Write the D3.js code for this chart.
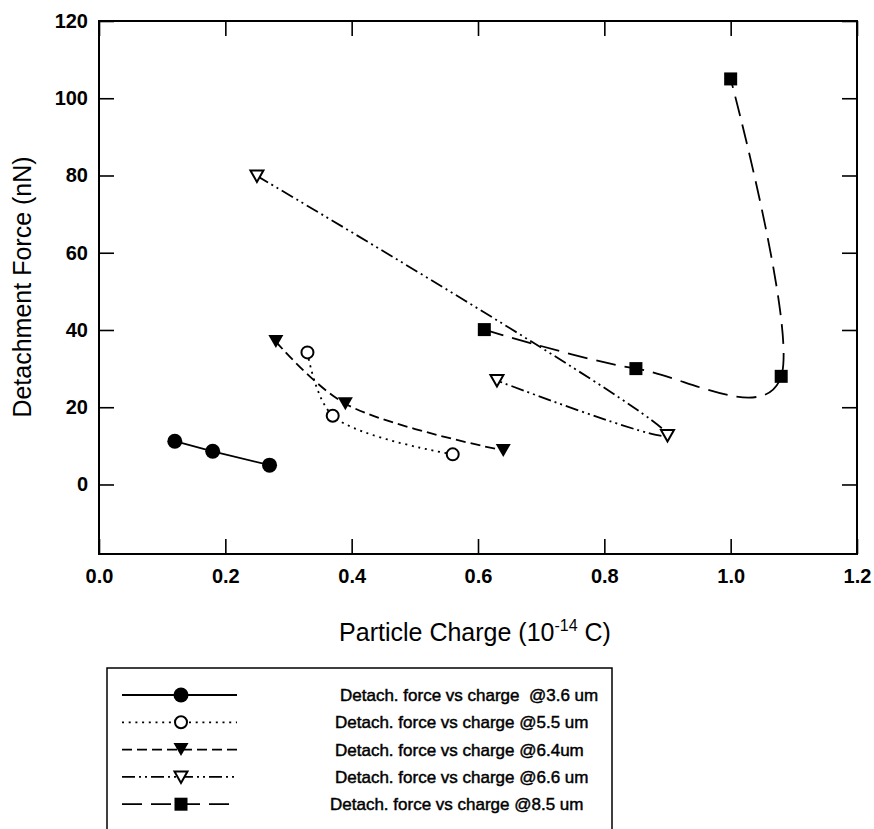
<!DOCTYPE html>
<html>
<head>
<meta charset="utf-8">
<script src="https://cdn.jsdelivr.net/npm/d3@7"></script>
<style>
  body { margin: 0; background: #fff; }
  text { font-family: "Liberation Sans", Arial, sans-serif; fill: #000; }
</style>
</head>
<body>
<svg id="chart" width="874" height="829"></svg>
<script>
// ---- data ----
const xTickValues = [0.0, 0.2, 0.4, 0.6, 0.8, 1.0, 1.2];
const yTickValues = [0, 20, 40, 60, 80, 100, 120];

const charge36 = [0.12, 0.18, 0.27];
const force36  = [11.2, 8.6, 5.0];

const charge55 = [0.33, 0.37, 0.56];
const force55  = [34.2, 17.8, 7.8];

const charge64 = [0.28, 0.39, 0.64];
const force64  = [37.0, 20.9, 8.8];

const charge66 = [0.25, 0.90, 0.63];
const force66  = [79.9, 12.7, 26.9];

const charge85 = [0.61, 0.85, 1.08, 1.00];
const force85  = [40.1, 30.0, 28.0, 105.0];

const legendLabels = [
  "Detach. force vs charge  @3.6 um",
  "Detach. force vs charge @5.5 um",
  "Detach. force vs charge @6.4um",
  "Detach. force vs charge @6.6 um",
  "Detach. force vs charge @8.5 um"
];

// ---- series styling ----
const series = [
  { xs: charge36, ys: force36, dash: null,           marker: "circleFilled",   curve: d3.curveLinear },
  { xs: charge55, ys: force55, dash: "2,4.7",        marker: "circleOpen",     curve: d3.curveCatmullRom.alpha(0.5) },
  { xs: charge64, ys: force64, dash: "10,5",         marker: "triangleFilled", curve: d3.curveCatmullRom.alpha(0.5) },
  { xs: charge66, ys: force66, dash: "13,4,2,4,2,4", marker: "triangleOpen",   curve: d3.curveCatmullRom.alpha(0.5) },
  { xs: charge85, ys: force85, dash: "20,9",         marker: "squareFilled",   curve: d3.curveCardinal.tension(0) }
];

// ---- layout ----
const svg = d3.select("#chart");
const plot = { left: 99, right: 857, top: 21, bottom: 554 };

const x = d3.scaleLinear().domain([0, 1.2]).range([plot.left, plot.right]);
const y = d3.scaleLinear().domain([-18, 120]).range([plot.bottom, plot.top]);

// frame
svg.append("rect")
  .attr("x", plot.left).attr("y", plot.top)
  .attr("width", plot.right - plot.left).attr("height", plot.bottom - plot.top)
  .attr("fill", "none").attr("stroke", "#000").attr("stroke-width", 2);

const tickLen = 15;
function styleAxis(g) {
  g.select(".domain").remove();
  g.selectAll(".tick line").attr("stroke", "#000").attr("stroke-width", 1.6);
}
function styleLabels(g) {
  g.selectAll(".tick text").attr("font-size", 20).attr("font-weight", "bold")
    .style("font-family", '"Liberation Sans", Arial, sans-serif');
}

// bottom axis with labels (ticks point inward)
svg.append("g")
  .attr("transform", `translate(0,${plot.bottom})`)
  .call(d3.axisBottom(x).tickValues(xTickValues).tickFormat(d3.format(".1f"))
        .tickSizeInner(-tickLen).tickSizeOuter(0).tickPadding(15))
  .call(styleAxis)
  .call(styleLabels);

// top axis: ticks only
svg.append("g")
  .attr("transform", `translate(0,${plot.top})`)
  .call(d3.axisTop(x).tickValues(xTickValues).tickFormat("")
        .tickSizeInner(-tickLen).tickSizeOuter(0))
  .call(styleAxis);

// left axis with labels
svg.append("g")
  .attr("transform", `translate(${plot.left},0)`)
  .call(d3.axisLeft(y).tickValues(yTickValues).tickFormat(d3.format("d"))
        .tickSizeInner(-tickLen).tickSizeOuter(0).tickPadding(11))
  .call(styleAxis)
  .call(styleLabels);

// right axis: ticks only
svg.append("g")
  .attr("transform", `translate(${plot.right},0)`)
  .call(d3.axisRight(y).tickValues(yTickValues).tickFormat("")
        .tickSizeInner(-tickLen).tickSizeOuter(0))
  .call(styleAxis);

// axis titles
const xTitle = svg.append("text")
  .attr("x", 475)
  .attr("y", 641)
  .attr("text-anchor", "middle")
  .attr("font-size", 25);
xTitle.append("tspan").text("Particle Charge (10");
xTitle.append("tspan").attr("dy", -10).attr("font-size", 16).text("-14");
xTitle.append("tspan").attr("dy", 10).text(" C)");

svg.append("text")
  .attr("transform", "translate(31,287) rotate(-90)")
  .attr("text-anchor", "middle")
  .attr("font-size", 25)
  .text("Detachment Force (nN)");

// ---- markers ----
function drawMarker(g, type, cx, cy) {
  switch (type) {
    case "circleFilled":
      g.append("circle").attr("cx", cx).attr("cy", cy).attr("r", 7.5).attr("fill", "#000");
      break;
    case "circleOpen":
      g.append("circle").attr("cx", cx).attr("cy", cy).attr("r", 6)
        .attr("fill", "#fff").attr("stroke", "#000").attr("stroke-width", 2);
      break;
    case "triangleFilled":
      g.append("path").attr("d", `M${cx - 7.5},${cy - 6.5}L${cx + 7.5},${cy - 6.5}L${cx},${cy + 6.5}Z`)
        .attr("fill", "#000");
      break;
    case "triangleOpen":
      g.append("path").attr("d", `M${cx - 6.5},${cy - 5.5}L${cx + 6.5},${cy - 5.5}L${cx},${cy + 6}Z`)
        .attr("fill", "#fff").attr("stroke", "#000").attr("stroke-width", 2);
      break;
    case "squareFilled":
      g.append("rect").attr("x", cx - 6.5).attr("y", cy - 6.5).attr("width", 13).attr("height", 13)
        .attr("fill", "#000");
      break;
  }
}

// ---- series lines and markers ----
const linesG = svg.append("g");
const marksG = svg.append("g");
series.forEach(s => {
  const pts = s.xs.map((v, i) => [v, s.ys[i]]);
  const line = d3.line().x(d => x(d[0])).y(d => y(d[1])).curve(s.curve);
  linesG.append("path")
    .attr("d", line(pts))
    .attr("fill", "none")
    .attr("stroke", "#000")
    .attr("stroke-width", 1.8)
    .attr("stroke-dasharray", s.dash);
  pts.forEach(p => drawMarker(marksG, s.marker, x(p[0]), y(p[1])));
});

// ---- legend ----
const legend = { left: 107, top: 668, right: 612, bottom: 840, rowY0: 695, rowStep: 27.3 };
svg.append("rect")
  .attr("x", legend.left).attr("y", legend.top)
  .attr("width", legend.right - legend.left).attr("height", legend.bottom - legend.top)
  .attr("fill", "none").attr("stroke", "#000").attr("stroke-width", 1.5);

const textIndent = [5, 0, 0, 0, -5];
series.forEach((s, i) => {
  const ry = legend.rowY0 + i * legend.rowStep;
  const g = svg.append("g");
  g.append("line")
    .attr("x1", 122).attr("x2", 237).attr("y1", ry).attr("y2", ry)
    .attr("stroke", "#000").attr("stroke-width", 1.8)
    .attr("stroke-dasharray", s.dash);
  drawMarker(g, s.marker, 181, ry);
  g.append("text")
    .attr("x", 335 + textIndent[i]).attr("y", ry + 6)
    .attr("font-size", 17)
    .attr("stroke", "#000").attr("stroke-width", 0.45)
    .style("white-space", "pre")
    .text(legendLabels[i]);
});
</script>
</body>
</html>
